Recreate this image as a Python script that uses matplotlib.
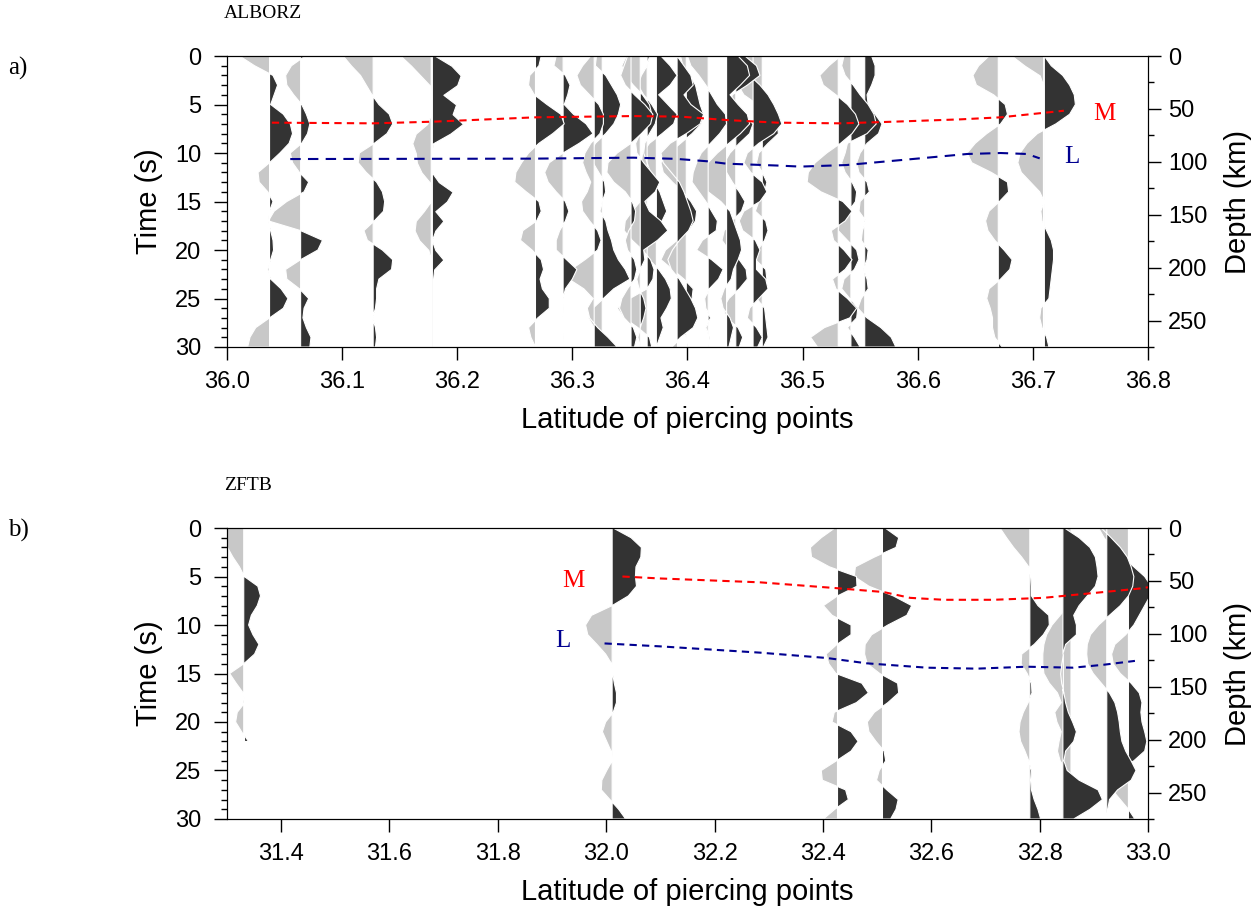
import numpy as np
import matplotlib
matplotlib.use("Agg")
import matplotlib.pyplot as plt
from matplotlib.ticker import MultipleLocator, FormatStrFormatter

plt.rcParams['font.family'] = ['Liberation Sans', 'DejaVu Sans']

# time samples of every trace (s)
TIME = np.arange(31)

# ---- ALBORZ traces: baseline latitude and amplitude (0.01 deg) every 1 s
a01 = [-2.6, -1.3, 0.3, 0.7, 0.4, 0.1, 1.2, 1.8, 2.0, 1.7, 0.9, 0.0, -1.0, -0.9, -0.15, 0.3, 0.0, -0.1, 0.1, 0.3, 0.35, 0.1, -0.15, 0.1, 1.0, 1.6, 1.2, 0.0, -1.2, -1.7, -1.9]
a02 = [0.4, -0.8, -1.3, -1.2, -0.6, 0.1, 0.5, 0.8, 0.6, 0.1, -0.9, -0.7, -0.1, 0.7, 0.3, -1.2, -2.3, -2.8, 0.0, 1.9, 1.5, 0.0, -1.3, -1.2, -0.1, 0.7, 0.3, 0.2, 0.5, 0.9, 0.8]
a03 = [-2.6, -1.9, -1.1, -0.6, -0.1, 0.5, 1.4, 1.7, 1.2, 0.1, -1.2, -1.3, -0.6, 0.3, 0.8, 1.0, 0.9, 0.1, -0.8, -0.5, 0.8, 1.7, 1.6, 0.5, 0.3, 0.3, 0.2, -0.05, 0.2, 0.3, 0.2]
a04g = [-2.6, -1.7, -0.9, -0.1, 0.0, 0.0, 0.0, -0.3, -1.3, -1.6, -1.3, -1.2, -0.8, -0.1, 0.0, 0.0, -0.6, -1.3, -1.4, -1.0, -0.2, 0, 0, 0, 0, 0, 0, 0, 0, 0, 0]
a04 = [0.3, 1.7, 2.5, 2.2, 1.0, 2.1, 1.8, 2.7, 1.6, 0.1, 0.0, 0.0, 0.0, 0.6, 1.8, 1.3, 0.3, 1.0, 0.3, 0.0, 0.3, 1.0, 0.2, 0.1, 0.1, 0.1, 0.1, 0.1, 0.1, 0.1, 0.1]
a05 = [0.5, 0.3, -0.5, -0.6, -0.1, 1.0, 2.2, 2.5, 1.5, 0.3, -0.6, -1.2, -1.7, -1.8, -0.8, 0.3, 0.5, 0.1, -1.1, -1.3, -0.3, 0.5, 0.7, 0.4, 0.6, 1.2, 1.2, 0.2, -0.6, -0.4, 0.0]
a06 = [-0.6, -0.8, 0.2, 0.6, 0.4, 0.1, 0.9, 2.0, 2.6, 1.4, 0.0, -1.2, -1.6, -1.3, -0.6, 0.2, 0.5, 0.2, -0.3, -0.6, -0.6, 0.3, 1.2, 0.8, 0.2, 0.0, -0.05, 0.0, 0.0, -0.05, 0.0]
a07 = [-0.3, -1.0, -1.5, -1.2, -0.4, 0.4, 0.8, 0.8, 0.5, -0.3, -0.8, -1.0, -0.7, -0.3, -0.6, -1.1, -1.0, -0.4, 0.3, 0.6, 0.3, -0.8, -2.0, -2.2, -0.9, -0.1, -0.6, -0.4, 0.3, 1.2, 2.0]
a08 = [-0.5, -0.6, 0.3, 0.8, 1.3, 1.6, 1.4, 1.0, 0.3, -0.6, -1.0, -0.8, -0.3, 0.2, 0.3, 0.0, -0.2, 0.3, 0.5, 0.8, 1.0, 1.4, 2.0, 2.4, 1.0, 0.1, -0.8, -1.2, -0.7, 0.5, 0.8]
a09 = [-0.3, -0.6, -0.9, -0.5, 0.3, 1.2, 1.9, 1.7, 0.9, 0.0, -1.2, -2.0, -2.1, -1.5, -0.5, 0.1, 0.4, 0.3, -0.2, -0.5, -0.3, 0.3, 0.5, 0.3, -0.3, -0.8, -1.0, -0.6, 0.2, 0.5, 0.3]
a10 = [-1.2, -1.6, -1.3, -0.6, 0.2, 0.8, 1.0, 0.6, 0.0, -0.4, -0.3, 0.3, 1.0, 1.7, 1.3, 0.4, 0.8, 1.8, 2.4, 1.5, 0.3, 0.4, 0.0, -0.3, -0.1, 0.3, 0.5, 0.3, 0.0, -0.2, 0.0]
a11 = [0.2, 0.0, -0.5, -0.8, -0.3, 0.4, 0.9, 0.7, 0.2, -0.2, -0.3, 0.0, 0.3, 0.4, 0.0, -0.6, -1.3, -1.9, -2.0, -1.3, -0.4, 0.3, 0.6, 0.5, 0.0, -1.5, -2.6, -2.0, -0.8, 0.2, 0.4]
a12 = [0.4, 1.2, 1.8, 1.2, 0.2, 1.0, 1.8, 1.5, 0.5, -0.6, -1.2, -1.3, -0.8, -0.2, 0.3, 0.6, 0.9, 0.5, -0.3, -0.9, -1.1, -0.6, 0.2, 0.8, 1.2, 1.3, 0.9, 0.4, 0.6, 0.3, 0.0]
a13 = [0.0, 0.6, 1.2, 1.4, 0.6, 1.2, 2.3, 2.0, 0.8, -0.6, -1.4, -1.2, -0.5, 0.2, 0.6, 0.9, 1.2, 1.4, 1.0, 0.2, -0.4, -0.8, -0.5, 0.2, 0.7, 1.2, 1.6, 1.8, 1.4, 0.3, -0.5]
a14 = [-0.5, -0.3, 0.3, 0.8, 1.0, 1.2, 1.5, 1.3, 0.5, -0.5, -1.5, -2.2, -2.0, -1.2, -0.3, 0.4, 0.9, 0.8, 0.2, -0.8, -1.8, -2.2, -1.2, -0.2, 0.6, 0.5, -0.2, -0.8, -0.5, 0.0, 0.1]
a15 = [-1.8, -1.5, -0.8, -0.2, 0.3, 0.8, 1.5, 1.6, 1.0, 0.2, -0.6, -1.0, -1.3, -1.4, -0.8, -0.2, 0.3, 0.8, 0.7, -0.5, -1.0, 0.3, 1.3, 0.9, 0.1, -0.3, -0.2, 0.2, -0.2, 0.1, 0.0]
a16 = [1.0, 1.8, 2.0, 1.2, 0.3, 1.0, 1.8, 2.0, 1.2, 0.2, -0.8, -1.6, -2.4, -2.6, -1.6, -0.5, 0.3, 0.6, 0.9, 1.2, 1.3, 1.0, 0.6, 0.4, -0.2, -0.5, -0.3, 0.3, 0.6, 0.4, 0.2]
a17 = [0.8, 1.8, 2.1, 1.0, -0.3, -0.5, 0.5, 1.5, 1.2, 0.3, -0.5, -1.0, -0.8, -0.3, 0.3, 0.8, 0.5, -0.3, -1.0, -1.2, -0.6, 0.3, 0.9, 1.0, 0.3, -0.6, -1.1, -0.8, 0.2, 0.6, 0.3]
a18 = [-1.5, -1.2, -0.3, 0.6, 1.3, 1.8, 2.2, 2.5, 1.8, 0.5, -0.5, -0.8, -0.2, 0.8, 1.2, 0.6, -0.8, -1.2, -0.9, 0.2, 0.6, 0.3, 0.3, 1.1, 1.3, 0.5, -0.3, -0.5, 0.3, 0.8, 0.4]
a19 = [-0.8, -1.5, -1.9, -2.1, -1.6, -0.4, 0.6, 1.3, 1.4, 0.5, -0.3, -0.5, 0.0, 0.4, 0.2, -0.3, -0.6, 0.3, 0.5, 0.2, -0.4, -0.6, 0.3, 0.4, -0.3, -0.5, 0.2, 0.3, 0.4, 0.5, 0.1]
a20 = [0.2, -0.8, -1.6, -1.3, -0.2, 0.8, 1.5, 1.8, 1.2, 0.2, -1.0, -2.0, -2.6, -2.7, -1.5, 0.4, 1.2, 0.6, -0.6, -0.4, 0.5, 1.2, 0.6, -0.5, -0.2, 0.8, 1.6, 1.0, -1.2, -2.4, -1.8]
a21 = [-0.6, -0.8, -0.5, 0.2, 0.8, 1.5, 2.0, 2.2, 1.4, -0.3, -0.5, -0.8, -0.5, 0.1, 0.5, 0.4, -0.2, -1.0, -1.1, -0.3, 0.5, 0.7, 0.3, -0.6, -0.8, -0.1, 0.6, 0.5, -0.3, 0.3, 0.8]
a22 = [0.6, 0.9, 0.9, 0.6, 0.2, 0.3, 0.9, 1.5, 1.2, 0.2, -0.4, -0.7, -0.5, 0.2, 0.4, -0.4, -0.5, 0.1, -0.2, -0.3, 0.3, 0.2, -0.1, 0.2, 0.3, -0.3, -0.6, 0.2, 1.4, 2.3, 2.7]
a23 = [-0.8, -1.7, -2.2, -1.9, -0.4, 0.6, 0.8, 0.2, -1.0, -2.0, -2.7, -2.3, -0.6, 0.8, 0.9, 0.1, -0.8, -1.1, -0.9, -0.3, 0.5, 1.2, 1.0, 0.2, -0.8, -1.0, -0.7, -0.5, -0.5, -0.3, 0.3]
a24g = [-2.7, -1.6, -0.3, 0, 0, 0, 0, 0, 0, 0, 0, 0, 0, 0, 0, 0, 0, 0, 0, 0, 0, 0, 0, 0, 0, 0, 0, 0, 0, 0, 0]
a24 = [0.0, 0.6, 1.6, 2.2, 2.6, 2.7, 2.2, 1.0, -0.6, -1.5, -2.1, -2.3, -2.0, -1.2, -0.4, 0.0, -0.3, -0.2, 0.2, 0.6, 0.8, 0.8, 0.7, 0.6, 0.5, 0.4, -0.3, -0.4, -0.2, 0.2, 0.4]

ALBORZ_LAT = [36.037, 36.064, 36.127, 36.177, 36.178, 36.268, 36.292, 36.319, 36.326,
              36.351, 36.359, 36.365, 36.373, 36.391, 36.399, 36.418, 36.434, 36.442,
              36.457, 36.465, 36.531, 36.542, 36.554, 36.670, 36.709, 36.710]
ALBORZ_TRACES = [a01, a02, a03, a04g, a04, a05, a06, a07, a08, a09, a10, a11, a12,
                 a13, a14, a15, a16, a17, a18, a19, a20, a21, a22, a23, a24g, a24]

# ---- ZFTB traces
nan = np.nan
b1 = [-3.5, -3.4, -3.0, -2.0, -0.8, 0.1, 2.6, 3.1, 2.5, 1.4, 0.9, 1.7, 2.8, 2.0, 0.0, -2.6, -1.4, -0.1, 0.2, -1.2, -1.5, -0.4, 0.7, nan, nan, nan, nan, nan, nan, nan, nan]
b2 = [0.2, 3.5, 5.4, 5.3, 4.4, 4.3, 4.5, 3.0, 0.0, -3.8, -4.9, -4.5, -2.8, -1.2, -0.1, 0.1, 0.4, 0.8, 0.8, 0.2, -1.2, -1.8, -1.0, -0.2, 0.0, -1.0, -1.9, -2.0, -0.4, 1.2, 2.5]
b3 = [-0.5, -3.0, -5.0, -4.8, -1.5, 3.5, 3.6, 0.0, -2.6, -1.0, 2.5, 2.5, -0.1, -2.1, -1.6, -0.3, 4.5, 5.7, 3.5, -0.6, -1.0, 2.5, 3.8, 2.5, -0.2, -3.0, -2.8, 1.5, 2.0, -0.5, -2.6]
b4 = [0.5, 3.0, 2.5, -1.5, -5.0, -5.2, -2.5, 2.0, 5.4, 4.5, 1.0, -2.0, -3.2, -3.3, -2.8, -0.5, 2.8, 3.0, 1.0, -1.5, -2.8, -2.5, -1.2, 0.3, 0.6, -0.6, -1.1, 0.8, 2.9, 2.5, 1.5]
b5 = [-5.5, -4.3, -3.0, -1.5, -0.2, 0.2, 0.3, 0.3, 1.5, 3.5, 3.6, 2.5, 0.8, -1.5, -1.6, -0.5, 0.3, 0.4, -0.3, -1.2, -1.8, -2.0, -1.7, -0.9, -0.2, 0.3, 0.2, 0.3, 0.8, 1.5, 2.0]
b6 = [0.3, 3.0, 5.0, 6.0, 6.3, 6.5, 6.0, 4.5, 3.0, 2.0, 2.5, 2.5, 0.5, 0.0, -0.3, -0.5, -0.3, 0.2, 0.5, 1.0, 1.8, 2.5, 2.0, 0.5, 0.2, 0.8, 3.0, 6.5, 7.3, 5.0, 2.0]
b7 = [-1.0, 0.5, 2.0, 3.5, 4.0, 3.5, 2.0, 1.0, -0.5, -2.0, -3.5, -4.5, -5.0, -5.2, -5.2, -5.0, -4.0, -2.5, -1.8, -3.0, -2.6, -1.8, -2.2, -2.5, -2.0, -0.8, -0.5, 0.5, 1.0, 0.5, 0.0]
b8 = [-1.0, 0.8, 2.5, 3.8, 4.5, 5.0, 4.8, 4.0, 2.5, 0.5, -1.5, -3.0, -3.6, -3.7, -3.5, -2.5, -1.0, 0.5, 1.5, 2.0, 2.3, 2.5, 2.8, 3.5, 4.5, 5.4, 4.5, 2.0, 0.5, 0.2, 0.0]
b9 = [-5.5, -4.5, -3.0, -1.0, 1.0, 3.0, 4.2, 4.0, 3.0, 2.0, 1.0, -0.5, -2.5, -3.1, -2.8, -1.5, 0.5, 2.0, 2.5, 2.3, 2.5, 3.0, 3.4, 3.0, 1.0, -2.0, -3.5, -3.0, -1.5, 0.0, 1.2]

ZFTB_LAT = [31.331, 32.011, 32.427, 32.510, 32.782, 32.843, 32.858, 32.924, 32.964]
ZFTB_TRACES = [b1, b2, b3, b4, b5, b6, b7, b8, b9]

# ---- picked interfaces (latitude, time)
ALB_M_LAT = [36.039, 36.127, 36.179, 36.268, 36.353, 36.394, 36.434, 36.478, 36.533, 36.579, 36.637, 36.672, 36.727]
ALB_M_T = [6.87, 6.94, 6.77, 6.32, 6.19, 6.25, 6.6, 6.87, 6.94, 6.77, 6.53, 6.32, 5.64]
ALB_L_LAT = [36.055, 36.266, 36.353, 36.39, 36.417, 36.434, 36.48, 36.498, 36.538, 36.602, 36.643, 36.672, 36.695, 36.706]
ALB_L_T = [10.62, 10.58, 10.48, 10.6, 10.85, 11.1, 11.3, 11.4, 11.24, 10.55, 10.1, 10.0, 10.1, 10.55]
ZFTB_M_LAT = [32.030, 32.099, 32.284, 32.425, 32.512, 32.561, 32.623, 32.715, 32.807, 32.900, 32.992, 33.0]
ZFTB_M_T = [5.0, 5.2, 5.6, 6.2, 6.6, 7.2, 7.4, 7.4, 7.2, 6.7, 6.2, 6.1]
ZFTB_L_LAT = [31.997, 32.099, 32.284, 32.407, 32.481, 32.592, 32.684, 32.776, 32.862, 32.918, 32.976]
ZFTB_L_T = [11.9, 12.2, 12.85, 13.4, 13.95, 14.4, 14.5, 14.3, 14.4, 14.1, 13.7]

RED = '#ff0000'
BLUE = '#000090'


def draw_traces(ax, lats, traces):
    # right-most first so the left traces end up on top
    for k in np.argsort(lats)[::-1]:
        amp = np.asarray(traces[k], dtype=float) * 0.01
        ok = ~np.isnan(amp)
        t, a, x0 = TIME[ok], amp[ok], lats[k]
        ax.fill_betweenx(t, x0, x0 + a, where=a >= 0, interpolate=True,
                         facecolor='#333333', edgecolor='white', lw=0.8)
        ax.fill_betweenx(t, x0, x0 + a, where=a <= 0, interpolate=True,
                         facecolor='#c8c8c8', edgecolor='white', lw=0.8)


def setup(ax, xlim, xticks):
    ax.set_xlim(xlim)
    ax.set_ylim(30, 0)
    ax.set_xticks(xticks)
    ax.xaxis.set_major_formatter(FormatStrFormatter('%.1f'))
    ax.yaxis.set_major_locator(MultipleLocator(5))
    ax.yaxis.set_minor_locator(MultipleLocator(1))
    ax.tick_params(axis='y', which='major', length=9.4, width=1, labelsize=17, pad=9)
    ax.tick_params(axis='y', which='minor', length=4.5, width=1)
    ax.tick_params(axis='x', length=9.4, width=1, labelsize=17, pad=8)
    ax.set_ylabel('Time (s)', fontsize=21, labelpad=9)
    ax.set_xlabel('Latitude of piercing points', fontsize=21, labelpad=9)
    ax2 = ax.twinx()
    ax2.set_ylim(275, 0)
    ax2.yaxis.set_major_locator(MultipleLocator(50))
    ax2.yaxis.set_minor_locator(MultipleLocator(25))
    ax2.tick_params(axis='y', which='major', length=9.4, width=1, labelsize=17, pad=5)
    ax2.tick_params(axis='y', which='minor', length=4.5, width=1)
    ax2.set_ylabel('Depth (km)', fontsize=21, labelpad=12)


fig = plt.figure(figsize=(12.58, 9.11), dpi=100)
ax_a = fig.add_axes([0.1804, 0.6191, 0.7321, 0.3194])
ax_b = fig.add_axes([0.1804, 0.1010, 0.7321, 0.3194])

draw_traces(ax_a, ALBORZ_LAT, ALBORZ_TRACES)
ax_a.plot(ALB_M_LAT, ALB_M_T, color=RED, lw=1.5, dashes=(3.5, 2.5), zorder=5)
ax_a.plot(ALB_L_LAT, ALB_L_T, color=BLUE, lw=1.5, dashes=(5, 3.5), zorder=5)
ax_a.text(36.762, 5.98, 'M', color=RED, fontsize=18, family='Liberation Serif', ha='center', va='center')
ax_a.text(36.734, 10.4, 'L', color=BLUE, fontsize=18, family='Liberation Serif', ha='center', va='center')
setup(ax_a, (36.0, 36.8), np.arange(36.0, 36.81, 0.1))

draw_traces(ax_b, ZFTB_LAT, ZFTB_TRACES)
ax_b.plot(ZFTB_M_LAT, ZFTB_M_T, color=RED, lw=1.5, dashes=(3.5, 2.5), zorder=5)
ax_b.plot(ZFTB_L_LAT, ZFTB_L_T, color=BLUE, lw=1.5, dashes=(3.5, 2.5), zorder=5)
ax_b.text(31.939, 5.46, 'M', color=RED, fontsize=18, family='Liberation Serif', ha='center', va='center')
ax_b.text(31.920, 11.65, 'L', color=BLUE, fontsize=18, family='Liberation Serif', ha='center', va='center')
setup(ax_b, (31.3, 33.0), np.arange(31.4, 33.01, 0.2))

fig.text(8 / 1258, 1 - 68 / 911, 'a)', family='Liberation Serif', fontsize=18, va='center')
fig.text(224 / 1258, 1 - 14 / 911, 'ALBORZ', family='Liberation Serif', fontsize=14, va='center')
fig.text(8 / 1258, 1 - 530 / 911, 'b)', family='Liberation Serif', fontsize=18, va='center')
fig.text(224 / 1258, 1 - 486 / 911, 'ZFTB', family='Liberation Serif', fontsize=14, va='center')

fig.savefig('out.png', dpi=100)
